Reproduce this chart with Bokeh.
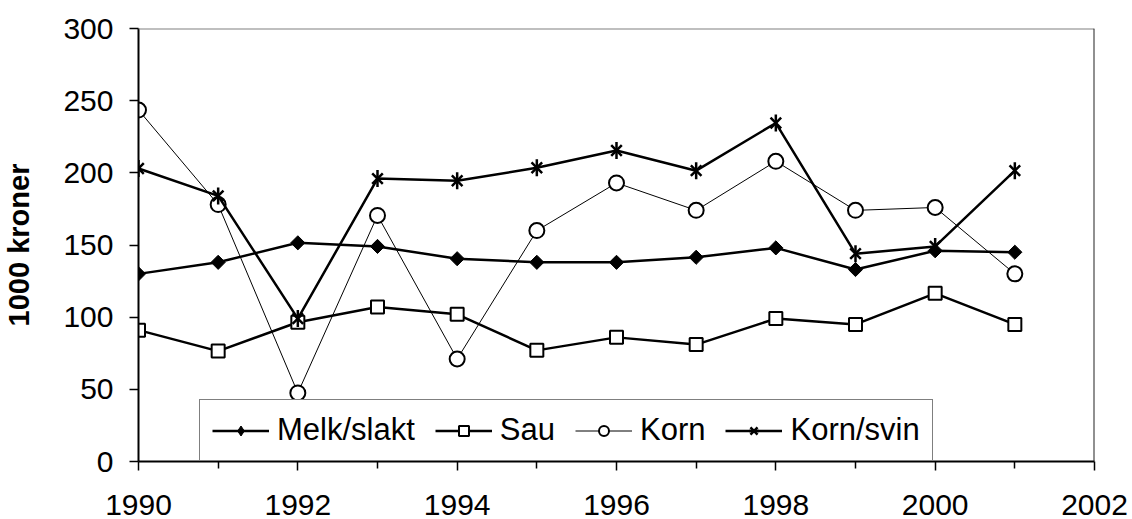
import numpy as np
from bokeh.plotting import figure
from bokeh.models import FixedTicker, Legend, LegendItem, Span, BasicTickFormatter
from bokeh.embed import file_html
from bokeh.resources import INLINE

years = [1990, 1991, 1992, 1993, 1994, 1995, 1996, 1997, 1998, 1999, 2000, 2001]
melk_slakt = [130, 138, 151.5, 149, 140.5, 138, 138, 141.5, 148, 133, 146, 145]
sau = [91, 76.5, 96.5, 107, 102, 77, 86, 81, 99, 95, 116.5, 95]
korn = [243.5, 178, 47.5, 170.5, 71, 160, 193, 174, 208, 174, 176, 130]
korn_svin = [203, 184, 99, 196, 194.5, 203.5, 215.5, 201.5, 234.5, 144, 149, 201.5]

series_names = ["Melk/slakt", "Sau", "Korn", "Korn/svin"]
x_ticks = [1990, 1992, 1994, 1996, 1998, 2000, 2002]
x_minor = [1991, 1993, 1995, 1997, 1999, 2001]
y_ticks = [0, 50, 100, 150, 200, 250, 300]
y_label = "1000 kroner"

FONT = "Liberation Sans"

p = figure(width=1132, height=519, output_backend="svg", toolbar_location=None,
           x_range=(1990, 2002), y_range=(0, 300),
           min_border_left=136, min_border_right=38, min_border_top=28, min_border_bottom=58)
p.outline_line_color = None
p.xgrid.visible = False
p.ygrid.visible = False
p.background_fill_color = "white"
p.border_fill_color = "white"

# axes
for ax in (p.xaxis[0], p.yaxis[0]):
    ax.axis_line_color = "black"
    ax.axis_line_width = 2
    ax.major_tick_line_color = "black"
    ax.major_tick_line_width = 1.5
    ax.major_tick_in = 0
    ax.major_tick_out = 9
    ax.minor_tick_in = 0
    ax.major_label_text_font = FONT
    ax.major_label_text_font_size = "30px"
    ax.major_label_text_color = "black"

p.xaxis.ticker = FixedTicker(ticks=x_ticks, minor_ticks=x_minor)
p.xaxis.formatter = BasicTickFormatter(use_scientific=False)
p.xaxis.minor_tick_out = 7
p.xaxis.minor_tick_line_color = "black"
p.xaxis.minor_tick_line_width = 1.5
p.xaxis.major_label_standoff = 24

p.yaxis.ticker = FixedTicker(ticks=y_ticks, minor_ticks=[])
p.yaxis.major_label_standoff = 16
p.yaxis.axis_label = y_label
p.yaxis.axis_label_text_font = FONT
p.yaxis.axis_label_text_font_style = "bold"
p.yaxis.axis_label_text_font_size = "29px"
p.yaxis.axis_label_text_color = "black"
p.yaxis.axis_label_standoff = 25

# plot-area border (top and right)
p.add_layout(Span(location=300, dimension="width", line_color="#808080", line_width=2))
p.add_layout(Span(location=2002, dimension="height", line_color="#222222", line_width=2))

# series
l1 = p.line(years, melk_slakt, line_color="black", line_width=2.5)
m1 = p.scatter(years, melk_slakt, marker="square", angle=np.pi / 4, size=10,
               fill_color="black", line_color="black", line_width=1)
# legend-only diamond (single point far outside the visible ranges)
m1_leg = p.scatter([1900], [-1000], marker="diamond", size=14,
                   fill_color="black", line_color="black", line_width=1)

l2 = p.line(years, sau, line_color="black", line_width=2.5)
m2 = p.scatter(years, sau, marker="square", size=13,
               fill_color="white", line_color="black", line_width=2)

l3 = p.line(years, korn, line_color="black", line_width=1)
m3 = p.scatter(years, korn, marker="circle", size=15,
               fill_color="white", line_color="black", line_width=2)

l4 = p.line(years, korn_svin, line_color="black", line_width=2.5)
m4a = p.scatter(years, korn_svin, marker="x", size=15, line_color="black", line_width=2.5)
m4b = p.scatter(years, korn_svin, marker="dash", angle=np.pi / 2, size=17,
                line_color="black", line_width=2.5)

legend = Legend(items=[
    LegendItem(label=series_names[0], renderers=[l1, m1_leg]),
    LegendItem(label=series_names[1], renderers=[l2, m2]),
    LegendItem(label=series_names[2], renderers=[l3, m3]),
    LegendItem(label=series_names[3], renderers=[l4, m4a, m4b]),
], location=(61, 0), orientation="horizontal")
legend.label_text_font = FONT
legend.label_text_font_size = "31px"
legend.label_text_color = "black"
legend.glyph_width = 57
legend.glyph_height = 25
legend.label_standoff = 8
legend.spacing = 20
legend.padding = 12
legend.margin = 0
legend.border_line_color = "black"
legend.border_line_width = 1.5
legend.background_fill_color = "white"
legend.background_fill_alpha = 1
p.add_layout(legend, "center")

open("out.html", "w").write(file_html(p, INLINE))
